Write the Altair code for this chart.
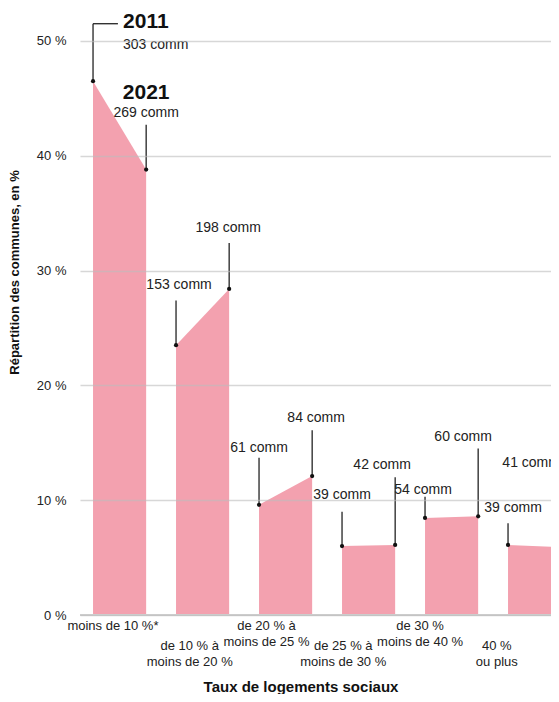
import altair as alt
import pandas as pd

categories = ["moins de 10 %*", "de 10 % à\nmoins de 20 %", "de 20 % à\nmoins de 25 %",
              "de 25 % à\nmoins de 30 %", "de 30 %\nmoins de 40 %", "40 %\nou plus"]
v2011 = [46.5, 23.5, 9.6, 6.0, 8.45, 6.1]
v2021 = [38.8, 28.4, 12.1, 6.1, 8.6, 5.9]
n2011 = [303, 153, 61, 39, 54, 39]
n2021 = [269, 198, 84, 42, 60, 41]
y_ticks = [0, 10, 20, 30, 40, 50]

# style: leader-line tops and label heights (in % units), horizontal text nudges (px)
top2011 = [51.5, 27.4, 13.7, 9.0, 10.3, 8.0]
top2021 = [42.7, 32.4, 16.1, 12.0, 14.5, 12.2]
laby2011 = [49.65, 28.75, 14.55, 10.45, 10.89, 9.32]
laby2021 = [43.73, 33.7, 17.16, 13.07, 15.5, 13.24]
dx2011 = [0, 3, 0, 0, -2, 5]
dx2021 = [0, -1, 4, -13, -15, -30]

BAR_W = 0.64
W, H = 471, 597
FONT = "Liberation Sans Narrow, Arial Narrow, Liberation Sans, sans-serif"
PINK = "#f3a1af"

area_rows, ann_rows, cat_rows = [], [], []
for i, c in enumerate(categories):
    area_rows.append({"cat": i, "x": i, "y": v2011[i]})
    area_rows.append({"cat": i, "x": i + BAR_W, "y": v2021[i]})
    ann_rows.append({"cat": i, "year": "2011", "x": i, "y": v2011[i], "top": top2011[i],
                     "ly": laby2011[i], "lab": f"{n2011[i]} comm", "dx": dx2011[i]})
    ann_rows.append({"cat": i, "year": "2021", "x": i + BAR_W, "y": v2021[i], "top": top2021[i],
                     "ly": laby2021[i], "lab": f"{n2021[i]} comm", "dx": dx2021[i]})
    cat_rows.append({"idx": i, "label": c, "row": i % 2})

area_df = pd.DataFrame(area_rows)
ann_df = pd.DataFrame(ann_rows)
cat_df = pd.DataFrame(cat_rows)

xs = alt.Scale(domain=[-0.157, -0.157 + W / 83.0], nice=False, zero=False)
ys = alt.Scale(domain=[0, 52], nice=False)

area = alt.Chart(area_df).mark_area(color=PINK, opacity=1, clip=True).encode(
    x=alt.X("x:Q", scale=xs, axis=None),
    y=alt.Y("y:Q", scale=ys, stack=None,
            axis=alt.Axis(values=y_ticks, labelExpr="datum.value + ' %'", title="Répartition des communes, en %",
                          grid=True, gridColor="#bdbdbd", gridOpacity=0.6, gridWidth=1.5,
                          domain=False, ticks=False, labelPadding=14, labelFontSize=13,
                          labelColor="#222", labelFont=FONT,
                          titleFont=FONT, titleFontSize=13, titleFontWeight="bold", titleColor="#111",
                          titleAngle=-90, titleX=-59, titleY=254, titleAlign="center", zindex=1)),
    detail="cat:N",
)

baseline = alt.Chart(pd.DataFrame({"y": [0]})).mark_rule(color="#cfcfcf", strokeWidth=2).encode(
    y=alt.Y("y:Q", scale=ys), x=alt.value(0), x2=alt.value(W))

lines = alt.Chart(ann_df).mark_rule(color="#111", strokeWidth=1.2).encode(
    x=alt.X("x:Q", scale=xs, axis=None), y=alt.Y("y:Q", scale=ys), y2="top:Q")

elbow = alt.Chart(ann_df[(ann_df.cat == 0) & (ann_df.year == "2011")]).mark_rule(
    color="#111", strokeWidth=1.2).encode(
    x=alt.X("x:Q", scale=xs, axis=None), x2=alt.X2("x_end:Q"), y=alt.Y("top:Q", scale=ys)
).transform_calculate(x_end="datum.x + 0.3")

dots = alt.Chart(ann_df).mark_circle(color="#111", size=18, opacity=1).encode(
    x=alt.X("x:Q", scale=xs, axis=None), y=alt.Y("y:Q", scale=ys))

other = ann_df[ann_df.cat != 0]
comm_labels = alt.layer(*[
    alt.Chart(other[other.dx == d]).mark_text(font=FONT, fontSize=14, color="#222", baseline="middle",
                                              dx=int(d), clip=True).encode(
        x=alt.X("x:Q", scale=xs, axis=None), y=alt.Y("ly:Q", scale=ys), text="lab:N")
    for d in sorted(other.dx.unique())
])

first = ann_df[ann_df.cat == 0]
f11 = first[first.year == "2011"]
f21 = first[first.year == "2021"]
year11 = alt.Chart(f11).mark_text(font=FONT, fontSize=21, fontWeight="bold", color="#111",
                                  align="left", baseline="middle", dx=30, dy=-23).encode(
    x=alt.X("x:Q", scale=xs, axis=None), y=alt.Y("ly:Q", scale=ys), text="year:N")
lab11 = alt.Chart(f11).mark_text(font=FONT, fontSize=14, color="#222",
                                 align="left", baseline="middle", dx=30).encode(
    x=alt.X("x:Q", scale=xs, axis=None), y=alt.Y("ly:Q", scale=ys), text="lab:N")
year21 = alt.Chart(f21).mark_text(font=FONT, fontSize=21, fontWeight="bold", color="#111",
                                  baseline="middle", dy=-20).encode(
    x=alt.X("x:Q", scale=xs, axis=None), y=alt.Y("ly:Q", scale=ys), text="year:N")
lab21 = alt.Chart(f21).mark_text(font=FONT, fontSize=14, color="#222",
                                 baseline="middle").encode(
    x=alt.X("x:Q", scale=xs, axis=None), y=alt.Y("ly:Q", scale=ys), text="lab:N")

cat_base = alt.Chart(cat_df).transform_calculate(lx="datum.idx * 0.925 + 0.24")
cat_top = cat_base.transform_filter("datum.row == 0").mark_text(
    font=FONT, fontSize=13, color="#222", baseline="top", lineBreak="\n", lineHeight=16, dy=5).encode(
    x=alt.X("lx:Q", scale=xs, axis=None), y=alt.value(H), text="label:N")
cat_bot = cat_base.transform_filter("datum.row == 1").mark_text(
    font=FONT, fontSize=13, color="#222", baseline="top", lineBreak="\n", lineHeight=16, dy=25).encode(
    x=alt.X("lx:Q", scale=xs, axis=None), y=alt.value(H), text="label:N")

xtitle = alt.Chart(pd.DataFrame({"t": ["Taux de logements sociaux"]})).mark_text(
    font=FONT, fontSize=15, fontWeight="bold", color="#111", baseline="middle").encode(
    x=alt.value(221), y=alt.value(669), text="t:N")

chart = alt.layer(area, baseline, lines, elbow, dots, comm_labels, year11, lab11, year21, lab21,
                  cat_top, cat_bot, xtitle).properties(
    width=W, height=H,
    autosize=alt.AutoSizeParams(type="none"),
    padding={"left": 72, "top": 10, "right": 0, "bottom": 79},
).configure_view(stroke=None)

chart.save("out.html", embed_options={"renderer": "svg", "actions": False})
